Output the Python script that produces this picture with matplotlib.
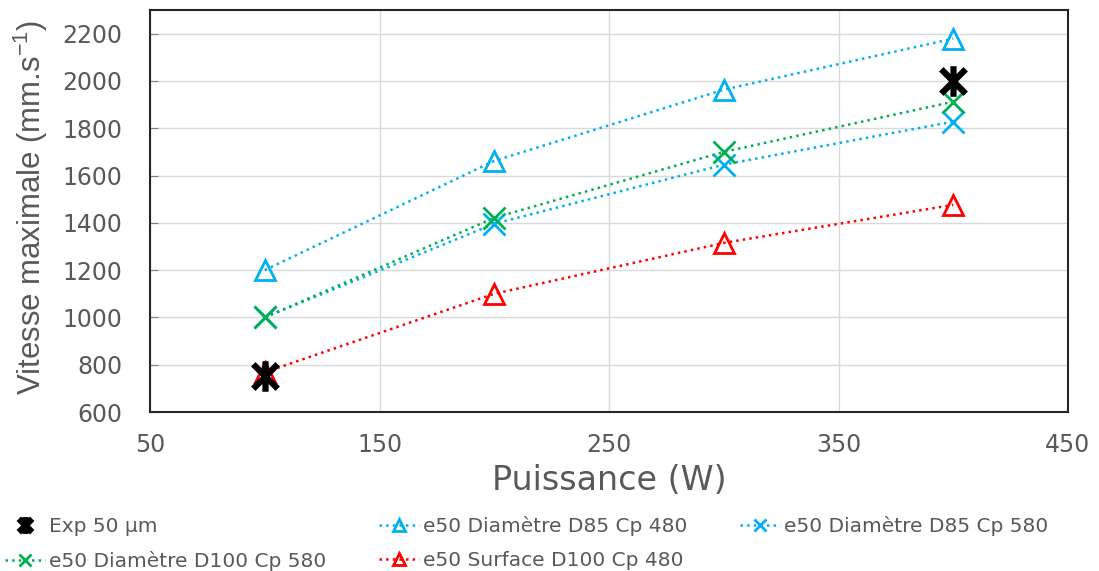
import matplotlib
matplotlib.use("Agg")
import matplotlib.pyplot as plt
from matplotlib.path import Path
import numpy as np

puissance = [100, 200, 300, 400]
exp_x = [100, 400]
exp_y = [752, 2000]
d85_480 = [1200, 1662, 1963, 2179]
d85_580 = [1000, 1396, 1646, 1828]
d100_580 = [1000, 1421, 1700, 1912]
surf_480 = [768, 1100, 1315, 1476]

labels = ["Exp 50 µm", "e50 Diamètre D85 Cp 480", "e50 Diamètre D85 Cp 580",
          "e50 Diamètre D100 Cp 580", "e50 Surface D100 Cp 480"]

blue = "#00b0f0"
green = "#00b050"
red = "#ff0000"
grey = "#595959"

star = Path([(-1, -1), (1, 1), (-1, 1), (1, -1), (0, -1.25), (0, 1.25)],
            [Path.MOVETO, Path.LINETO, Path.MOVETO, Path.LINETO, Path.MOVETO, Path.LINETO])

W, H = 1099, 571
fig = plt.figure(figsize=(W/100, H/100), dpi=100)
ax = fig.add_axes([150/W, 1-412/H, (1068-150)/W, (412-10)/H])

l1, = ax.plot(exp_x, exp_y, linestyle='none', marker=star, ms=22, mew=4.5,
              mec='black', color='black', zorder=5)
l2, = ax.plot(puissance, d85_480, linestyle=':', lw=1.8, color=blue, marker='^',
              ms=15, mfc='none', mec=blue, mew=2)
l3, = ax.plot(puissance, d85_580, linestyle=':', lw=1.8, color=blue, marker='x',
              ms=16, mec=blue, mew=2)
l4, = ax.plot(puissance, d100_580, linestyle=':', lw=1.8, color=green, marker='x',
              ms=16, mec=green, mew=2)
l5, = ax.plot(puissance, surf_480, linestyle=':', lw=1.8, color=red, marker='^',
              ms=15, mfc='none', mec=red, mew=2)
l1.set_zorder(6)

ax.set_xlim(50, 450)
ax.set_ylim(600, 2300)
ax.set_xticks([50, 150, 250, 350, 450])
ax.set_yticks(np.arange(600, 2201, 200))
ax.grid(True, color="#d9d9d9", lw=1)
ax.set_axisbelow(True)
for s in ax.spines.values():
    s.set_color('#262626')
    s.set_linewidth(1.5)
ax.tick_params(axis='both', direction='in', length=0, labelsize=17, labelcolor=grey)
ax.tick_params(axis='x', pad=15)
ax.tick_params(axis='y', length=6, color='#7f7f7f', pad=20)

ax.set_xlabel("Puissance (W)", fontsize=24, color=grey, labelpad=5)

# y label: fit to the reference's length (~375 px) with a narrower family
ylab = fig.text(31/W, 1-207/H, "Vitesse maximale (mm.s$^{\\mathregular{-1}}$)",
                rotation=90, ha='center', va='center', color=grey,
                family=['Liberation Sans', 'DejaVu Sans'], fontsize=26)
fig.canvas.draw()
r = fig.canvas.get_renderer()
h = ylab.get_window_extent(r).height
ylab.set_fontsize(26 * 375 / h)

handles = [l1, l4, l2, l5, l3]
labs = [labels[0], labels[3], labels[1], labels[4], labels[2]]
leg = fig.legend(handles, labs, ncol=3, loc='upper left', bbox_to_anchor=(-0.012, 1-498/H),
                 frameon=False, fontsize=14.5, labelcolor=grey, handlelength=2.0,
                 handletextpad=0.2, columnspacing=2.6, markerscale=0.55, labelspacing=0.75)

fig.savefig("out.png", dpi=100)
